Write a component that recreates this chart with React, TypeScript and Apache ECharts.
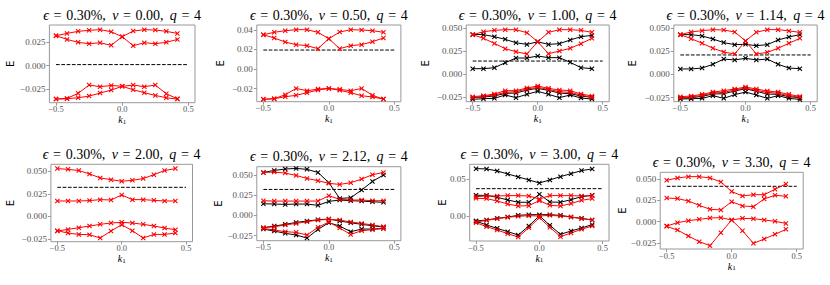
import React, { useEffect, useRef } from "react";
import * as echarts from "echarts";

// k1 sample points
const K = [-0.5, -0.417, -0.333, -0.25, -0.167, -0.083, 0, 0.083, 0.167, 0.25, 0.333, 0.417];
const NU = ["0.00", "0.50", "1.00", "1.14", "2.00", "2.12", "3.00", "3.30"];
const EPS = "0.30%";
const Q = "4";
const X_TICKS = [-0.5, 0, 0.5];
const Y_TICKS = [
  [-0.025, 0, 0.025],
  [-0.02, 0, 0.02, 0.04],
  [-0.025, 0, 0.025, 0.05],
  [-0.025, 0, 0.025, 0.05],
  [-0.025, 0, 0.025, 0.05],
  [-0.025, 0, 0.025, 0.05],
  [0, 0.05],
  [-0.025, 0, 0.025, 0.05],
];
const Y_DEC = [3, 2, 3, 3, 3, 3, 2, 3];
const FERMI = [0.0012, 0.0194, 0.0141, 0.0209, 0.0323, 0.0321, 0.037, 0.0414];

// panel 1 (nu = 0.00)
const p1r1 = [0.0321, 0.0346, 0.0368, 0.0379, 0.0386, 0.0364, 0.0311, 0.0371, 0.0386, 0.0382, 0.0368, 0.0346];
const p1r2 = [0.0321, 0.0282, 0.025, 0.0236, 0.0246, 0.0218, 0.0311, 0.0214, 0.0246, 0.0236, 0.025, 0.0282];
const p1r3 = [-0.0357, -0.035, -0.0296, -0.0207, -0.0225, -0.0211, -0.0221, -0.0207, -0.0225, -0.0207, -0.03, -0.0354];
const p1r4 = [-0.0357, -0.0353, -0.0343, -0.0325, -0.0293, -0.0261, -0.0221, -0.0257, -0.0289, -0.0318, -0.0343, -0.0357];
// panel 2 (nu = 0.50)
const p2r1 = [0.0351, 0.0375, 0.0392, 0.0402, 0.0402, 0.0375, 0.031, 0.0378, 0.0402, 0.0399, 0.0392, 0.0375];
const p2r2 = [0.0351, 0.0317, 0.0276, 0.0249, 0.0239, 0.0208, 0.031, 0.0208, 0.0239, 0.0249, 0.028, 0.0317];
const p2r3 = [-0.031, -0.0303, -0.0263, -0.0198, -0.0222, -0.0205, -0.0198, -0.0208, -0.0222, -0.0198, -0.0269, -0.0307];
const p2r4 = [-0.031, -0.0303, -0.0283, -0.0269, -0.0242, -0.0215, -0.0198, -0.0218, -0.0242, -0.0273, -0.0286, -0.0307];
// panel 3 (nu = 1.00)
const p3r1 = [0.0428, 0.046, 0.0475, 0.0482, 0.0482, 0.0449, 0.0351, 0.0453, 0.0482, 0.0482, 0.0475, 0.0453];
const p3r2 = [0.0428, 0.0388, 0.0333, 0.0275, 0.0243, 0.0217, 0.0351, 0.0221, 0.025, 0.0279, 0.033, 0.0388];
const p3r3 = [-0.0246, -0.0236, -0.0217, -0.0181, -0.0181, -0.0152, -0.013, -0.0156, -0.0174, -0.0181, -0.0217, -0.0239];
const p3r4 = [-0.0257, -0.0243, -0.0228, -0.02, -0.0192, -0.0163, -0.0145, -0.0167, -0.0192, -0.02, -0.0228, -0.0254];
const p3b1 = [0.0431, 0.0428, 0.0406, 0.0377, 0.034, 0.0322, 0.0351, 0.0322, 0.033, 0.037, 0.0406, 0.042];
const p3b2 = [0.0058, 0.0058, 0.0069, 0.0123, 0.0174, 0.0174, 0.0196, 0.0178, 0.0178, 0.0127, 0.0069, 0.0058];
const p3b3 = [-0.0257, -0.025, -0.0239, -0.021, -0.0207, -0.0174, -0.0156, -0.0178, -0.0207, -0.0214, -0.0239, -0.0254];
const p3b4 = [-0.0275, -0.0268, -0.0264, -0.0228, -0.0257, -0.0221, -0.0188, -0.0221, -0.0257, -0.0228, -0.0261, -0.0272];
// panel 4 (nu = 1.14)
const p4r1 = [0.0428, 0.0457, 0.0471, 0.0482, 0.0478, 0.0457, 0.036, 0.0453, 0.0482, 0.0482, 0.0468, 0.0453];
const p4r2 = [0.0428, 0.0385, 0.0335, 0.0281, 0.0241, 0.0219, 0.036, 0.0219, 0.0237, 0.0281, 0.0335, 0.0388];
const p4r3 = [-0.0241, -0.0234, -0.0216, -0.0191, -0.0176, -0.0158, -0.0137, -0.0158, -0.018, -0.0191, -0.0216, -0.0238];
const p4r4 = [-0.0252, -0.0245, -0.0227, -0.0201, -0.0194, -0.0169, -0.0147, -0.0173, -0.0194, -0.0205, -0.023, -0.0248];
const p4b1 = [0.0428, 0.0428, 0.0414, 0.0381, 0.0342, 0.032, 0.0324, 0.0309, 0.032, 0.037, 0.0403, 0.0428];
const p4b2 = [0.0058, 0.0058, 0.0068, 0.0108, 0.0165, 0.0155, 0.0173, 0.0155, 0.0165, 0.0108, 0.0068, 0.0061];
const p4b3 = [-0.0255, -0.0252, -0.0237, -0.0212, -0.0209, -0.018, -0.0155, -0.0183, -0.0212, -0.0216, -0.0241, -0.0252];
const p4b4 = [-0.0266, -0.0263, -0.0259, -0.023, -0.0259, -0.0219, -0.0191, -0.0223, -0.0259, -0.023, -0.0259, -0.027];
// panel 5 (nu = 2.00)
const p5r1 = [0.0531, 0.0523, 0.0509, 0.0472, 0.0427, 0.0408, 0.039, 0.0401, 0.042, 0.0464, 0.0509, 0.0531];
const p5r2 = [0.0171, 0.0171, 0.0171, 0.0175, 0.0186, 0.0182, 0.0238, 0.0186, 0.0186, 0.0178, 0.0171, 0.0171];
const p5r3 = [-0.0163, -0.0145, -0.0126, -0.0108, -0.0089, -0.0074, -0.0067, -0.0074, -0.0089, -0.0108, -0.013, -0.0149];
const p5r4 = [-0.016, -0.0186, -0.0201, -0.0204, -0.0241, -0.0163, -0.0093, -0.016, -0.0241, -0.0201, -0.0201, -0.0186];
// panel 6 (nu = 2.12)
const p6r1 = [0.0531, 0.0536, 0.0523, 0.0494, 0.0457, 0.0429, 0.0396, 0.0383, 0.0404, 0.0449, 0.0503, 0.0531];
const p6r2 = [0.0181, 0.0177, 0.0177, 0.0177, 0.0177, 0.0177, 0.0243, 0.0198, 0.019, 0.019, 0.0181, 0.0181];
const p6r3 = [-0.0152, -0.014, -0.0119, -0.0099, -0.0078, -0.0058, -0.0049, -0.0058, -0.0082, -0.0099, -0.0119, -0.014];
const p6r4 = [-0.0161, -0.0181, -0.0202, -0.021, -0.0243, -0.0148, -0.0082, -0.0157, -0.0235, -0.019, -0.0177, -0.0161];
const p6b1 = [0.0531, 0.0556, 0.0573, 0.0581, 0.0569, 0.0531, 0.0404, 0.021, 0.0218, 0.0313, 0.042, 0.0499];
const p6b2 = [0.0144, 0.014, 0.0136, 0.014, 0.014, 0.0124, 0.0173, 0.019, 0.0181, 0.0177, 0.0169, 0.0161];
const p6b3 = [-0.0152, -0.0132, -0.0111, -0.0087, -0.007, -0.0054, -0.0045, -0.007, -0.0091, -0.0111, -0.0128, -0.0144];
const p6b4 = [-0.0169, -0.0194, -0.0222, -0.0243, -0.028, -0.0173, -0.0091, -0.0132, -0.0202, -0.0169, -0.0169, -0.0161];
// panel 7 (nu = 3.00)
const p7r1 = [0.0263, 0.0272, 0.0272, 0.0277, 0.0277, 0.0272, 0.0232, 0.0277, 0.0277, 0.0277, 0.0272, 0.0277];
const p7r2 = [0.0241, 0.0237, 0.0205, 0.0165, 0.0138, 0.0143, 0.021, 0.0147, 0.0138, 0.017, 0.0214, 0.0237];
const p7r3 = [-0.0076, -0.0054, -0.0031, -0.0013, 0.0, 0.0009, 0.0004, 0.0013, 0.0004, -0.0009, -0.0031, -0.0049];
const p7r4 = [-0.0085, -0.0138, -0.0183, -0.0232, -0.0277, -0.0152, -0.0018, -0.0147, -0.0272, -0.0223, -0.0174, -0.0129];
const p7b1 = [0.0638, 0.0634, 0.0607, 0.0567, 0.0527, 0.0487, 0.0446, 0.0487, 0.0531, 0.0571, 0.0612, 0.0634];
const p7b2 = [0.0281, 0.0281, 0.0254, 0.0219, 0.0188, 0.0188, 0.0295, 0.0192, 0.0188, 0.0223, 0.0263, 0.0281];
const p7b3 = [-0.0063, -0.0049, -0.0027, -0.0009, 0.0013, 0.0022, 0.0022, 0.0022, 0.0013, -0.0009, -0.0027, -0.0049];
const p7b4 = [-0.0063, -0.0116, -0.0161, -0.0205, -0.025, -0.0129, 0.0009, -0.012, -0.0241, -0.0196, -0.0156, -0.0112];
// panel 8 (nu = 3.30)
const p8r1 = [0.0484, 0.0512, 0.0527, 0.0527, 0.0512, 0.0465, 0.0352, 0.0301, 0.0316, 0.0316, 0.0379, 0.0441];
const p8r2 = [0.0277, 0.027, 0.0242, 0.0191, 0.0145, 0.0137, 0.0234, 0.0184, 0.0176, 0.0266, 0.0309, 0.0297];
const p8r3 = [-0.0051, -0.0012, 0.0012, 0.0027, 0.0043, 0.0047, 0.002, 0.0039, 0.0035, 0.002, 0.0004, -0.002];
const p8r4 = [-0.0055, -0.0098, -0.0168, -0.0234, -0.0281, -0.0129, 0.002, -0.0105, -0.0254, -0.0203, -0.0148, -0.009];

const RED = [
  [p1r1, p1r2, p1r3, p1r4],
  [p2r1, p2r2, p2r3, p2r4],
  [p3r1, p3r2, p3r3, p3r4],
  [p4r1, p4r2, p4r3, p4r4],
  [p5r1, p5r2, p5r3, p5r4],
  [p6r1, p6r2, p6r3, p6r4],
  [p7r1, p7r2, p7r3, p7r4],
  [p8r1, p8r2, p8r3, p8r4],
];
const BLACK = [
  [],
  [],
  [p3b1, p3b2, p3b3, p3b4],
  [p4b1, p4b2, p4b3, p4b4],
  [],
  [p6b1, p6b2, p6b3, p6b4],
  [p7b1, p7b2, p7b3, p7b4],
  [],
];

// layout (pixels) and axis ranges
const LAYOUT = [
  { left: 49.4, top: 25, width: 145.6, height: 77.7, ymin: -0.0396, ymax: 0.0436, ex: 10 },
  { left: 256.8, top: 25, width: 144.1, height: 76.7, ymin: -0.0334, ymax: 0.045, ex: 220 },
  { left: 466.2, top: 25, width: 143, height: 76.7, ymin: -0.0301, ymax: 0.0533, ex: 425 },
  { left: 673.8, top: 25, width: 143.4, height: 76.7, ymin: -0.0295, ymax: 0.0532, ex: 632 },
  { left: 50.9, top: 164.3, width: 141.6, height: 77.4, ymin: -0.0282, ymax: 0.0579, ex: 10 },
  { left: 256.8, top: 166.7, width: 144.1, height: 74, ymin: -0.0313, ymax: 0.0602, ex: 218 },
  { left: 469.7, top: 164.3, width: 139.3, height: 76.7, ymin: -0.033, ymax: 0.0696, ex: 442 },
  { left: 660.2, top: 172.3, width: 143, height: 76.7, ymin: -0.032, ymax: 0.0578, ex: 622 },
];

const SERIF = "Liberation Serif";
const XMARK = "path://M0,1.5L1.5,0L5,3.5L8.5,0L10,1.5L6.5,5L10,8.5L8.5,10L5,6.5L1.5,10L0,8.5L3.5,5Z";
const GRAY = "#999";
const LABEL = "#555";
const SP = "\u2004"; // three-per-em space (math spacing)
const TH = "\u2009"; // thin space

function fmt(v: number, d: number) {
  return (v < 0 ? "\u2212" : "") + Math.abs(v).toFixed(d);
}

export default function App() {
  const ref = useRef<HTMLDivElement>(null);
  useEffect(() => {
    if (!ref.current) return;
    const chart = echarts.init(ref.current, undefined, { renderer: "svg" });
    const grids: any[] = [];
    const xAxes: any[] = [];
    const yAxes: any[] = [];
    const series: any[] = [];
    const graphics: any[] = [];

    LAYOUT.forEach((L, i) => {
      grids.push({
        left: L.left,
        top: L.top,
        width: L.width,
        height: L.height,
        show: true,
        borderColor: GRAY,
        borderWidth: 1,
        backgroundColor: "transparent",
        containLabel: false,
        outerBoundsMode: "none",
      });
      xAxes.push({
        type: "value",
        gridIndex: i,
        position: "bottom",
        min: -0.55,
        max: 0.55,
        splitLine: { show: false },
        axisLine: { show: false, onZero: false },
        axisTick: { show: true, customValues: X_TICKS, length: 3, lineStyle: { color: GRAY, width: 1 } },
        axisLabel: {
          customValues: X_TICKS,
          formatter: (v: number) => fmt(v, 1),
          fontFamily: SERIF,
          fontSize: 8.5,
          color: LABEL,
          margin: 2,
          lineHeight: 9,
        },
      });
      yAxes.push({
        type: "value",
        gridIndex: i,
        position: "left",
        min: L.ymin,
        max: L.ymax,
        splitLine: { show: false },
        axisLine: { show: false, onZero: false },
        axisTick: { show: true, customValues: Y_TICKS[i], length: 3, lineStyle: { color: GRAY, width: 1 } },
        axisLabel: {
          customValues: Y_TICKS[i],
          formatter: (v: number) => fmt(v, Y_DEC[i]),
          fontFamily: SERIF,
          fontSize: 9,
          color: LABEL,
          margin: 4,
        },
      });

      const addBand = (arr: number[], color: string) => {
        series.push({
          type: "line",
          xAxisIndex: i,
          yAxisIndex: i,
          data: K.map((k, j) => [k, arr[j]]),
          symbol: XMARK,
          symbolSize: 5,
          showSymbol: true,
          silent: true,
          lineStyle: { color, width: 1 },
          itemStyle: { color },
          z: 3,
        });
      };
      BLACK[i].forEach((a) => addBand(a, "#000000"));
      RED[i].forEach((a) => addBand(a, "#ff0000"));
      series.push({
        type: "line",
        xAxisIndex: i,
        yAxisIndex: i,
        data: [
          [-0.5, FERMI[i]],
          [0.5, FERMI[i]],
        ],
        symbol: "none",
        silent: true,
        lineStyle: { color: "#000", width: 1, type: [3.7, 1.6] },
        z: 2,
      });

      const cx = L.left + L.width / 2;
      graphics.push({
        type: "text",
        x: cx,
        y: L.top - 3,
        silent: true,
        style: {
          text:
            "{m|\u03f5}{r|" + SP + "=" + SP + EPS + "," + TH + " }{m|\u03bd}{r|" + SP + "=" + SP + NU[i] + "," + TH +
            " }{m|q}{r|" + SP + "=" + SP + Q + "}",
          font: "14px 'Liberation Serif'",
          fill: "#000",
          align: "center",
          verticalAlign: "bottom",
          rich: {
            m: { fontFamily: SERIF, fontSize: 14, fontStyle: "italic", fontWeight: "normal", color: "#000" },
            r: { fontFamily: SERIF, fontSize: 14, fontWeight: "normal", color: "#000" },
          },
        },
      });
      graphics.push({
        type: "text",
        x: L.ex,
        y: L.top + L.height / 2,
        rotation: Math.PI / 2,
        silent: true,
        style: {
          text: "E",
          font: "10px 'DejaVu Sans'",
          fill: "#000",
          align: "center",
          verticalAlign: "middle",
        },
      });
      graphics.push({
        type: "text",
        x: cx,
        y: L.top + L.height + 17,
        silent: true,
        style: {
          text: "{k|k}{s|1}",
          align: "center",
          verticalAlign: "middle",
          rich: {
            k: { fontFamily: SERIF, fontSize: 10, fontStyle: "italic", color: LABEL, lineHeight: 11 },
            s: { fontFamily: SERIF, fontSize: 7, color: LABEL, lineHeight: 11, verticalAlign: "bottom" },
          },
        },
      });
    });

    chart.setOption({
      animation: false,
      grid: grids,
      xAxis: xAxes,
      yAxis: yAxes,
      series,
      graphic: graphics,
    });
    return () => chart.dispose();
  }, []);
  return (
    <div
      ref={ref}
      style={{ position: "absolute", left: 0, top: 0, width: 830, height: 285, background: "#fff" }}
    />
  );
}
